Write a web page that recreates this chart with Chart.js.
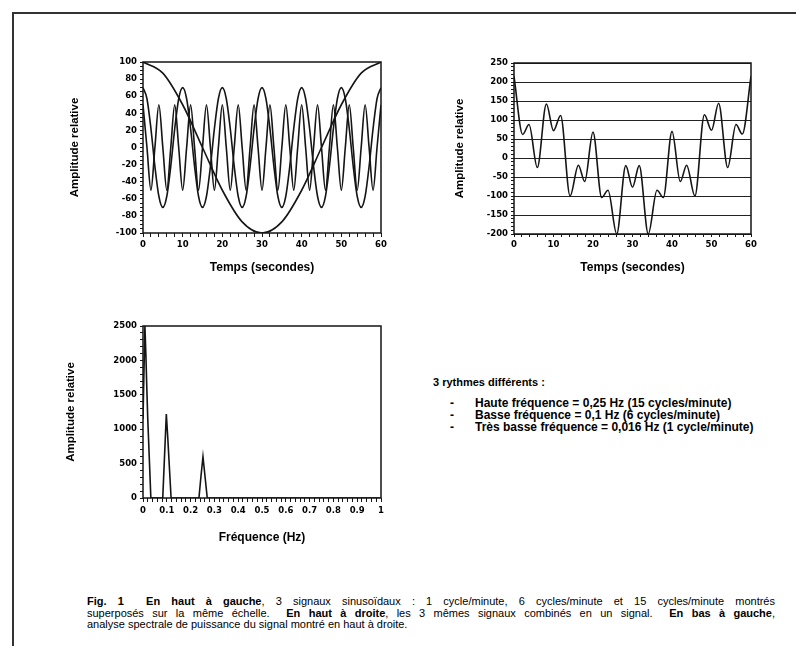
<!DOCTYPE html>
<html lang="fr">
<head>
    <meta charset="UTF-8">
    <title>Fig. 1 - trois rythmes</title>
    <script src="https://cdn.jsdelivr.net/npm/chart.js"></script>
    <style>
        html, body {
            margin: 0;
            padding: 0;
            background: #fff;
        }
        body {
            position: relative;
            width: 796px;
            height: 646px;
            overflow: hidden;
            font-family: "Liberation Sans", Arial, sans-serif;
            color: #000;
        }
        .cadre {
            position: absolute;
            left: 12px;
            top: 12px;
            width: 820px;
            height: 700px;
            border-left: 2px solid #333;
            border-top: 2px solid #333;
        }
        canvas {
            position: absolute;
        }
        #hautGauche { left: 40px; top: 40px; }
        #hautDroite { left: 420px; top: 40px; }
        #basGauche { left: 40px; top: 300px; }
        .rythmes {
            position: absolute;
            left: 433px;
            top: 376px;
            font-weight: bold;
            font-size: 11px;
        }
        .rythmes ul {
            list-style: none;
            margin: 9px 0 0 0;
            padding: 0;
            font-size: 12px;
            line-height: 12px;
        }
        .rythmes li span {
            display: inline-block;
            width: 25px;
            padding-left: 17px;
        }
        .legende {
            position: absolute;
            left: 87px;
            top: 596px;
            width: 688px;
            font-size: 11px;
            line-height: 11.5px;
        }
        .legende .just {
            text-align: justify;
            text-align-last: justify;
        }
    </style>
</head>
<body>
    <div class="cadre"></div>
    <canvas id="hautGauche" width="360" height="250"></canvas>
    <canvas id="hautDroite" width="376" height="250"></canvas>
    <canvas id="basGauche" width="360" height="260"></canvas>

    <div class="rythmes">
        3 rythmes différents :
        <ul>
            <li><span>-</span>Haute fréquence = 0,25 Hz (15 cycles/minute)</li>
            <li><span>-</span>Basse fréquence = 0,1 Hz (6 cycles/minute)</li>
            <li><span>-</span>Très basse fréquence = 0,016 Hz (1 cycle/minute)</li>
        </ul>
    </div>

    <div class="legende">
        <div class="just"><b>Fig. 1&nbsp; En haut à gauche</b>, 3 signaux sinusoïdaux : 1 cycle/minute, 6 cycles/minute et 15 cycles/minute montrés</div>
        <div class="just">superposés sur la même échelle.&nbsp; <b>En haut à droite</b>, les 3 mêmes signaux combinés en un signal.&nbsp; <b>En bas à gauche</b>,</div>
        <div>analyse spectrale de puissance du signal montré en haut à droite.</div>
    </div>

    <script>
        // --- données ---
        const tempsSecondes = [0,1,2,3,4,5,6,7,8,9,10,11,12,13,14,15,16,17,18,19,20,21,22,23,24,25,26,27,28,29,30,
            31,32,33,34,35,36,37,38,39,40,41,42,43,44,45,46,47,48,49,50,51,52,53,54,55,56,57,58,59,60];
        // 15 cycles/minute
        const hauteFrequence = [50,0,-50,0,50,0,-50,0,50,0,-50,0,50,0,-50,0,50,0,-50,0,
            50,0,-50,0,50,0,-50,0,50,0,-50,0,50,0,-50,0,50,0,-50,0,
            50,0,-50,0,50,0,-50,0,50,0,-50,0,50,0,-50,0,50,0,-50,0,50];
        // 6 cycles/minute
        const basseFrequence = [70,57,22,-22,-57,-70,-57,-22,22,57,
            70,57,22,-22,-57,-70,-57,-22,22,57,
            70,57,22,-22,-57,-70,-57,-22,22,57,
            70,57,22,-22,-57,-70,-57,-22,22,57,
            70,57,22,-22,-57,-70,-57,-22,22,57,
            70,57,22,-22,-57,-70,-57,-22,22,57,70];
        // 1 cycle/minute
        const tempsLent = [0,5,10,15,20,25,30,35,40,45,50,55,60];
        const tresBasseFrequence = [100,87,50,0,-50,-87,-100,-87,-50,0,50,87,100];

        // signal combiné (extrema relevés)
        const tempsCombine = [0,2.2,3.8,5.9,8.2,10,11.8,14.2,16.3,17.9,20,22.2,23.8,26,28.3,30,
            31.7,34,36.2,37.8,40,42.1,43.7,45.8,48.2,50,51.8,54.1,56.2,57.8,60];
        const signalCombine = [215,62,88,-25,142,72,112,-100,-19,-62,68,-104,-85,-200,-20,-77,
            -20,-200,-85,-104,70,-62,-19,-100,114,73,144,-25,88,63,215];

        // spectre de puissance
        const frequencesHz = [0,0.008,0.012,0.016,0.02,0.033,0.083,0.098,0.104,0.118,0.235,0.244,0.252,0.27,1];
        const puissance = [1150,2500,2100,1600,1150,0,0,1220,880,0,0,330,600,0,0];

        // étiquettes des axes
        const ticksTemps = [0,10,20,30,40,50,60];
        const ticksAmplitude = [-100,-80,-60,-40,-20,0,20,40,60,80,100];
        const ticksSignal = [-200,-150,-100,-50,0,50,100,150,200,250];
        const ticksFrequence = [0,0.1,0.2,0.3,0.4,0.5,0.6,0.7,0.8,0.9,1];
        const ticksPuissance = [0,500,1000,1500,2000,2500];

        const NOIR = '#151515';
        const policeTicks = { family: 'DejaVu Sans', size: 8.5, weight: 'bold' };
        const policeTitreX = { family: 'Liberation Sans', size: 12, weight: 'bold' };
        const policeTitreY = { family: 'Liberation Sans', size: 11.5, weight: 'bold' };

        function points(xs, ys) {
            return xs.map((x, i) => ({ x: x, y: ys[i] }));
        }

        function serie(xs, ys, lisse) {
            return {
                data: points(xs, ys),
                borderColor: NOIR,
                borderWidth: 1.6,
                pointRadius: 0,
                fill: false,
                cubicInterpolationMode: lisse ? 'monotone' : 'default',
                tension: 0
            };
        }

        // cadre autour de la zone de tracé
        const cadrePlugin = {
            id: 'cadre',
            afterDatasetsDraw(chart) {
                const { ctx, chartArea: a } = chart;
                ctx.save();
                ctx.strokeStyle = NOIR;
                ctx.lineWidth = 1.5;
                ctx.strokeRect(a.left, a.top, a.right - a.left, a.bottom - a.top);
                ctx.restore();
            }
        };

        function proche(liste, v) {
            return liste.some(t => Math.abs(t - v) < 1e-9);
        }

        function axeX(min, max, pas, etiquettes, titre, hauteur, longTick, pad) {
            return {
                type: 'linear',
                min: min,
                max: max,
                border: { display: false },
                grid: { drawOnChartArea: false, tickLength: longTick, tickColor: NOIR, tickWidth: 1 },
                ticks: {
                    stepSize: pas,
                    autoSkip: false,
                    maxRotation: 0,
                    padding: pad,
                    color: '#000',
                    font: policeTicks,
                    callback: v => proche(etiquettes, v) ? String(v) : ''
                },
                title: { display: true, text: titre, color: '#000', font: policeTitreX, padding: 0 },
                afterFit: s => { s.height = hauteur; }
            };
        }

        function axeY(min, max, pas, etiquettes, largeur, grille) {
            return {
                min: min,
                max: max,
                border: { display: false },
                grid: {
                    drawOnChartArea: !!grille,
                    color: c => proche(etiquettes, c.tick.value) ? '#222' : 'rgba(0,0,0,0)',
                    lineWidth: 1,
                    tickLength: 3,
                    tickColor: NOIR,
                    tickWidth: 1
                },
                ticks: {
                    stepSize: pas,
                    autoSkip: false,
                    padding: 3,
                    color: '#000',
                    font: policeTicks,
                    callback: v => proche(etiquettes, v) ? String(v) : ''
                },
                title: { display: true, text: 'Amplitude relative', color: '#000', font: policeTitreY, padding: 0 },
                afterFit: s => { s.width = largeur; }
            };
        }

        function options(padding, x, y) {
            return {
                responsive: false,
                animation: false,
                devicePixelRatio: 1,
                layout: { padding: padding },
                plugins: { legend: { display: false }, tooltip: { enabled: false } },
                scales: { x: x, y: y }
            };
        }

        // en haut à gauche : 3 signaux superposés
        new Chart(document.getElementById('hautGauche'), {
            type: 'line',
            data: {
                datasets: [
                    serie(tempsLent, tresBasseFrequence, true),
                    serie(tempsSecondes, basseFrequence, true),
                    serie(tempsSecondes, hauteFrequence, true)
                ]
            },
            options: options({ left: 28, top: 22, right: 19, bottom: 15 },
                axeX(0, 60, 2, ticksTemps, 'Temps (secondes)', 42, 4, 3),
                axeY(-100, 100, 5, ticksAmplitude, 75, false)),
            plugins: [cadrePlugin]
        });

        // en haut à droite : signal combiné
        new Chart(document.getElementById('hautDroite'), {
            type: 'line',
            data: { datasets: [serie(tempsCombine, signalCombine, true)] },
            options: options({ left: 33, top: 23, right: 45, bottom: 15 },
                axeX(0, 60, 2, ticksTemps, 'Temps (secondes)', 41, 3, 3),
                axeY(-200, 250, 10, ticksSignal, 61, true)),
            plugins: [cadrePlugin]
        });

        // en bas à gauche : analyse spectrale
        new Chart(document.getElementById('basGauche'), {
            type: 'line',
            data: { datasets: [serie(frequencesHz, puissance, false)] },
            options: options({ left: 24, top: 26, right: 19, bottom: 15 },
                axeX(0, 1, 0.02, ticksFrequence, 'Fréquence (Hz)', 47, 4, 4),
                axeY(0, 2500, 100, ticksPuissance, 79, false)),
            plugins: [cadrePlugin]
        });
    </script>
</body>
</html>
